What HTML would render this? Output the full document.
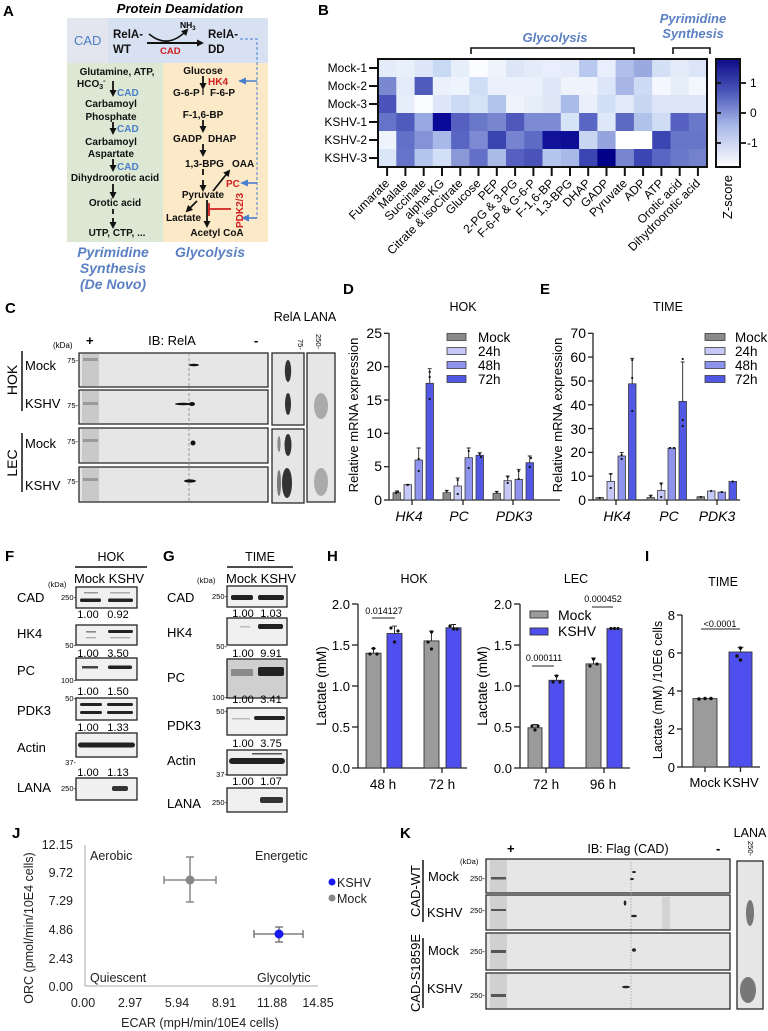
<!DOCTYPE html>
<html><head><meta charset="utf-8"><style>
html,body{margin:0;padding:0;background:#fff;}
svg{display:block;font-family:"Liberation Sans",Arial,sans-serif;}
</style></head><body>
<svg width="768" height="1031" viewBox="0 0 768 1031" xmlns="http://www.w3.org/2000/svg">
<defs>
<marker id="ah" markerWidth="7" markerHeight="7" refX="5" refY="3.5" orient="auto" markerUnits="userSpaceOnUse"><path d="M0,0 L7,3.5 L0,7 z" fill="#111"/></marker>
<marker id="ahb" markerWidth="8" markerHeight="7" refX="6" refY="3.5" orient="auto" markerUnits="userSpaceOnUse"><path d="M0,0 L8,3.5 L0,7 z" fill="#4a7fd0"/></marker>
<linearGradient id="cb" x1="0" y1="0" x2="0" y2="1">
<stop offset="0" stop-color="#0c0c86"/><stop offset="0.3" stop-color="#4a55b8"/><stop offset="0.6" stop-color="#a4b4e6"/><stop offset="1" stop-color="#ffffff"/>
</linearGradient>
</defs>

<!-- ============ PANEL A ============ -->
<text x="3" y="16" font-size="15" font-weight="bold">A</text>
<text x="180" y="13" font-size="13" font-weight="bold" font-style="italic" text-anchor="middle">Protein Deamidation</text>
<rect x="67" y="18" width="41" height="45" fill="#e3e6ee"/>
<rect x="108" y="18" width="160" height="45" fill="#d7e1f2"/>
<rect x="67" y="63" width="96" height="179" fill="#dce8d4"/>
<rect x="163" y="63" width="105" height="179" fill="#fbe9c7"/>
<text x="74" y="45" font-size="13" fill="#4a7fc8">CAD</text>
<g font-size="11.5" font-weight="bold" fill="#111">
<text x="113" y="38">RelA-</text><text x="113" y="53">WT</text>
<text x="208" y="38">RelA-</text><text x="208" y="53">DD</text>
</g>
<path d="M149,34 Q168,50 187,30" fill="none" stroke="#111" stroke-width="1.6" marker-end="url(#ah)"/>
<line x1="147" y1="43" x2="202" y2="43" stroke="#111" stroke-width="2" marker-end="url(#ah)"/>
<text x="180" y="28" font-size="8.5" font-weight="bold">NH<tspan font-size="6" dy="2">3</tspan></text>
<text x="160" y="54" font-size="9.5" font-weight="bold" fill="#d02020">CAD</text>
<path d="M240,39 L257,39 L257,218" fill="none" stroke="#4a7fd0" stroke-width="1" stroke-dasharray="3,2"/>
<line x1="257" y1="81" x2="240" y2="81" stroke="#4a7fd0" stroke-width="1.6" marker-end="url(#ahb)"/>
<line x1="257" y1="183" x2="242" y2="183" stroke="#4a7fd0" stroke-width="1.6" marker-end="url(#ahb)"/>
<line x1="257" y1="218" x2="243" y2="218" stroke="#4a7fd0" stroke-width="1.6" marker-end="url(#ahb)"/>
<!-- green column -->
<g font-size="10" font-weight="bold" fill="#111" text-anchor="middle">
<text x="117" y="75">Glutamine, ATP,</text>
<text x="77" y="87" text-anchor="start">HCO<tspan font-size="7" dy="2">3</tspan><tspan font-size="7" dy="-6">-</tspan></text>
<text x="111" y="107">Carbamoyl</text>
<text x="111" y="120">Phosphate</text>
<text x="111" y="145">Carbamoyl</text>
<text x="111" y="157">Aspartate</text>
<text x="115" y="181">Dihydroorotic acid</text>
<text x="115" y="206">Orotic acid</text>
<text x="117" y="236">UTP, CTP, ...</text>
</g>
<g font-size="10" font-weight="bold" fill="#4a7fc8">
<text x="117" y="96">CAD</text><text x="117" y="132">CAD</text><text x="117" y="170">CAD</text>
</g>
<g stroke="#111" stroke-width="1.8">
<line x1="113" y1="81" x2="113" y2="95" marker-end="url(#ah)"/>
<line x1="113" y1="122" x2="113" y2="133" marker-end="url(#ah)"/>
<line x1="113" y1="159" x2="113" y2="170" marker-end="url(#ah)"/>
<line x1="113" y1="184" x2="113" y2="197" marker-end="url(#ah)"/>
<line x1="113" y1="209" x2="113" y2="214"/>
<line x1="113" y1="218" x2="113" y2="227" marker-end="url(#ah)"/>
</g>
<text x="113" y="257" font-size="14" font-weight="bold" font-style="italic" fill="#5b80c2" text-anchor="middle">Pyrimidine</text>
<text x="113" y="273" font-size="14" font-weight="bold" font-style="italic" fill="#5b80c2" text-anchor="middle">Synthesis</text>
<text x="113" y="289" font-size="14" font-weight="bold" font-style="italic" fill="#5b80c2" text-anchor="middle">(De Novo)</text>
<text x="210" y="257" font-size="14" font-weight="bold" font-style="italic" fill="#5b80c2" text-anchor="middle">Glycolysis</text>
<!-- orange column -->
<g font-size="10" font-weight="bold" fill="#111">
<text x="203" y="74" text-anchor="middle">Glucose</text>
<text x="173" y="96">G-6-P</text><text x="210" y="96">F-6-P</text>
<text x="203" y="118" text-anchor="middle">F-1,6-BP</text>
<text x="173" y="142">GADP</text><text x="208" y="142">DHAP</text>
<text x="185" y="167">1,3-BPG</text><text x="232" y="167">OAA</text>
<text x="203" y="198" text-anchor="middle">Pyruvate</text>
<text x="166" y="221">Lactate</text>
<text x="217" y="236" text-anchor="middle">Acetyl CoA</text>
</g>
<g font-size="10" font-weight="bold" fill="#d02020">
<text x="208" y="85">HK4</text><text x="226" y="187">PC</text>
<text transform="translate(243,228) rotate(-90)">PDK2/3</text>
</g>
<g stroke="#111" stroke-width="1.8">
<line x1="203" y1="76" x2="203" y2="88" marker-end="url(#ah)"/>
<line x1="203" y1="89" x2="203" y2="95" stroke-width="1.2"/>
<line x1="203" y1="120" x2="203" y2="131" marker-end="url(#ah)"/>
<line x1="203" y1="144" x2="203" y2="155" marker-end="url(#ah)"/>
<line x1="203" y1="169" x2="203" y2="175"/>
<line x1="203" y1="180" x2="203" y2="190" marker-end="url(#ah)"/>
<line x1="213" y1="191" x2="229" y2="171" marker-end="url(#ah)"/>
<line x1="197" y1="201" x2="187" y2="211" marker-end="url(#ah)"/>
<line x1="207" y1="200" x2="207" y2="226" marker-end="url(#ah)"/>
</g>
<g stroke="#d02020" stroke-width="1.8"><line x1="209" y1="209" x2="231" y2="209"/><line x1="209" y1="203" x2="209" y2="216"/></g>

<!-- ============ PANEL B ============ -->
<text x="318" y="15" font-size="15" font-weight="bold">B</text>
<text x="555" y="42" font-size="13" font-weight="bold" font-style="italic" fill="#5b80c2" text-anchor="middle">Glycolysis</text>
<path d="M471,54 L471,48 L634,48 L634,54" fill="none" stroke="#111" stroke-width="1.6"/>
<text x="693" y="23" font-size="13" font-weight="bold" font-style="italic" fill="#5b80c2" text-anchor="middle">Pyrimidine</text>
<text x="693" y="38" font-size="13" font-weight="bold" font-style="italic" fill="#5b80c2" text-anchor="middle">Synthesis</text>
<path d="M673,54 L673,48 L710,48 L710,54" fill="none" stroke="#111" stroke-width="1.6"/>
<g>
<!-- row 0 -->
<rect x="378" y="59" width="18.5" height="18.2" fill="#e4ecfa"/><rect x="396.3" y="59" width="18.5" height="18.2" fill="#e8f0fb"/><rect x="414.6" y="59" width="18.5" height="18.2" fill="#dde6f8"/><rect x="432.8" y="59" width="18.5" height="18.2" fill="#c8daf3"/><rect x="451.1" y="59" width="18.5" height="18.2" fill="#e6eefa"/><rect x="469.4" y="59" width="18.5" height="18.2" fill="#fafcff"/><rect x="487.7" y="59" width="18.5" height="18.2" fill="#eef3fc"/><rect x="506" y="59" width="18.5" height="18.2" fill="#dde6f7"/><rect x="524.2" y="59" width="18.5" height="18.2" fill="#e4ecfa"/><rect x="542.5" y="59" width="18.5" height="18.2" fill="#e8eefb"/><rect x="560.8" y="59" width="18.5" height="18.2" fill="#e4ecfa"/><rect x="579.1" y="59" width="18.5" height="18.2" fill="#b8c8ee"/><rect x="597.4" y="59" width="18.5" height="18.2" fill="#e8eefb"/><rect x="615.6" y="59" width="18.5" height="18.2" fill="#afbfe9"/><rect x="633.9" y="59" width="18.5" height="18.2" fill="#9aaae0"/><rect x="652.2" y="59" width="18.5" height="18.2" fill="#d4e0f6"/><rect x="670.5" y="59" width="18.5" height="18.2" fill="#e4ecfa"/><rect x="688.8" y="59" width="18.2" height="18.2" fill="#dbe5f7"/>
<!-- row 1 -->
<rect x="378" y="77" width="18.5" height="18.2" fill="#7a88d0"/><rect x="396.3" y="77" width="18.5" height="18.2" fill="#e4ecfa"/><rect x="414.6" y="77" width="18.5" height="18.2" fill="#4f5cbc"/><rect x="432.8" y="77" width="18.5" height="18.2" fill="#eaf1fc"/><rect x="451.1" y="77" width="18.5" height="18.2" fill="#eef4fd"/><rect x="469.4" y="77" width="18.5" height="18.2" fill="#d0def5"/><rect x="487.7" y="77" width="18.5" height="18.2" fill="#eaf0fc"/><rect x="506" y="77" width="18.5" height="18.2" fill="#eaf0fc"/><rect x="524.2" y="77" width="18.5" height="18.2" fill="#eaf0fc"/><rect x="542.5" y="77" width="18.5" height="18.2" fill="#dfe8f8"/><rect x="560.8" y="77" width="18.5" height="18.2" fill="#eef3fc"/><rect x="579.1" y="77" width="18.5" height="18.2" fill="#eef3fc"/><rect x="597.4" y="77" width="18.5" height="18.2" fill="#dde6f8"/><rect x="615.6" y="77" width="18.5" height="18.2" fill="#a8b6e6"/><rect x="633.9" y="77" width="18.5" height="18.2" fill="#cddbf4"/><rect x="652.2" y="77" width="18.5" height="18.2" fill="#f4f7fe"/><rect x="670.5" y="77" width="18.5" height="18.2" fill="#e6eefa"/><rect x="688.8" y="77" width="18.2" height="18.2" fill="#f2f6fd"/>
<!-- row 2 -->
<rect x="378" y="95" width="18.5" height="18.2" fill="#4b52b8"/><rect x="396.3" y="95" width="18.5" height="18.2" fill="#e6eefa"/><rect x="414.6" y="95" width="18.5" height="18.2" fill="#fafcff"/><rect x="432.8" y="95" width="18.5" height="18.2" fill="#dde6f8"/><rect x="451.1" y="95" width="18.5" height="18.2" fill="#ccdaf4"/><rect x="469.4" y="95" width="18.5" height="18.2" fill="#d6e2f6"/><rect x="487.7" y="95" width="18.5" height="18.2" fill="#b2c3ec"/><rect x="506" y="95" width="18.5" height="18.2" fill="#eef3fc"/><rect x="524.2" y="95" width="18.5" height="18.2" fill="#e6eefa"/><rect x="542.5" y="95" width="18.5" height="18.2" fill="#e0e8f8"/><rect x="560.8" y="95" width="18.5" height="18.2" fill="#a9bbe8"/><rect x="579.1" y="95" width="18.5" height="18.2" fill="#eaf0fb"/><rect x="597.4" y="95" width="18.5" height="18.2" fill="#d2def6"/><rect x="615.6" y="95" width="18.5" height="18.2" fill="#e2eaf9"/><rect x="633.9" y="95" width="18.5" height="18.2" fill="#c8d6f2"/><rect x="652.2" y="95" width="18.5" height="18.2" fill="#dde6f8"/><rect x="670.5" y="95" width="18.5" height="18.2" fill="#dde6f8"/><rect x="688.8" y="95" width="18.2" height="18.2" fill="#dde6f8"/>
<!-- row 3 -->
<rect x="378" y="113" width="18.5" height="18.2" fill="#6573c8"/><rect x="396.3" y="113" width="18.5" height="18.2" fill="#4f5abd"/><rect x="414.6" y="113" width="18.5" height="18.2" fill="#98a8e0"/><rect x="432.8" y="113" width="18.5" height="18.2" fill="#0a0a98"/><rect x="451.1" y="113" width="18.5" height="18.2" fill="#5560c0"/><rect x="469.4" y="113" width="18.5" height="18.2" fill="#6a78ca"/><rect x="487.7" y="113" width="18.5" height="18.2" fill="#7886d0"/><rect x="506" y="113" width="18.5" height="18.2" fill="#5058bc"/><rect x="524.2" y="113" width="18.5" height="18.2" fill="#7d8bd4"/><rect x="542.5" y="113" width="18.5" height="18.2" fill="#7d8bd4"/><rect x="560.8" y="113" width="18.5" height="18.2" fill="#d6e2f6"/><rect x="579.1" y="113" width="18.5" height="18.2" fill="#5a66c3"/><rect x="597.4" y="113" width="18.5" height="18.2" fill="#dfe8f8"/><rect x="615.6" y="113" width="18.5" height="18.2" fill="#5d6ac4"/><rect x="633.9" y="113" width="18.5" height="18.2" fill="#b0c1ea"/><rect x="652.2" y="113" width="18.5" height="18.2" fill="#cfdcf4"/><rect x="670.5" y="113" width="18.5" height="18.2" fill="#5660c0"/><rect x="688.8" y="113" width="18.2" height="18.2" fill="#6a78ca"/>
<!-- row 4 -->
<rect x="378" y="131" width="18.5" height="18.2" fill="#eef3fc"/><rect x="396.3" y="131" width="18.5" height="18.2" fill="#6270c8"/><rect x="414.6" y="131" width="18.5" height="18.2" fill="#8593d6"/><rect x="432.8" y="131" width="18.5" height="18.2" fill="#a8b8e8"/><rect x="451.1" y="131" width="18.5" height="18.2" fill="#5865c2"/><rect x="469.4" y="131" width="18.5" height="18.2" fill="#7d8ad3"/><rect x="487.7" y="131" width="18.5" height="18.2" fill="#3a44b0"/><rect x="506" y="131" width="18.5" height="18.2" fill="#7583d0"/><rect x="524.2" y="131" width="18.5" height="18.2" fill="#5f6cc6"/><rect x="542.5" y="131" width="18.5" height="18.2" fill="#12129b"/><rect x="560.8" y="131" width="18.5" height="18.2" fill="#0d0d96"/><rect x="579.1" y="131" width="18.5" height="18.2" fill="#c8d6f2"/><rect x="597.4" y="131" width="18.5" height="18.2" fill="#95a4dd"/><rect x="615.6" y="131" width="18.5" height="18.2" fill="#ffffff"/><rect x="633.9" y="131" width="18.5" height="18.2" fill="#ffffff"/><rect x="652.2" y="131" width="18.5" height="18.2" fill="#3c46b2"/><rect x="670.5" y="131" width="18.5" height="18.2" fill="#6876c9"/><rect x="688.8" y="131" width="18.2" height="18.2" fill="#6876c9"/>
<!-- row 5 -->
<rect x="378" y="149" width="18.5" height="18" fill="#dbe6f8"/><rect x="396.3" y="149" width="18.5" height="18" fill="#6573c8"/><rect x="414.6" y="149" width="18.5" height="18" fill="#b5c6ee"/><rect x="432.8" y="149" width="18.5" height="18" fill="#d2dff6"/><rect x="451.1" y="149" width="18.5" height="18" fill="#8a98d8"/><rect x="469.4" y="149" width="18.5" height="18" fill="#6370c8"/><rect x="487.7" y="149" width="18.5" height="18" fill="#aabbe8"/><rect x="506" y="149" width="18.5" height="18" fill="#5560c0"/><rect x="524.2" y="149" width="18.5" height="18" fill="#4a54b8"/><rect x="542.5" y="149" width="18.5" height="18" fill="#b5c6ee"/><rect x="560.8" y="149" width="18.5" height="18" fill="#a8b8e8"/><rect x="579.1" y="149" width="18.5" height="18" fill="#3c46b2"/><rect x="597.4" y="149" width="18.5" height="18" fill="#000088"/><rect x="615.6" y="149" width="18.5" height="18" fill="#7886d0"/><rect x="633.9" y="149" width="18.5" height="18" fill="#3c46b2"/><rect x="652.2" y="149" width="18.5" height="18" fill="#5965c2"/><rect x="670.5" y="149" width="18.5" height="18" fill="#6a78ca"/><rect x="688.8" y="149" width="18.2" height="18" fill="#7481cd"/>
</g>
<rect x="378" y="59" width="329" height="108" fill="none" stroke="#111" stroke-width="2"/>
<g font-size="12" text-anchor="end">
<text x="367" y="72">Mock-1</text><text x="367" y="90">Mock-2</text><text x="367" y="108">Mock-3</text>
<text x="367" y="126">KSHV-1</text><text x="367" y="144">KSHV-2</text><text x="367" y="162">KSHV-3</text>
</g>
<g stroke="#111" stroke-width="2">
<line x1="369" y1="68" x2="378" y2="68"/><line x1="369" y1="86" x2="378" y2="86"/><line x1="369" y1="104" x2="378" y2="104"/>
<line x1="369" y1="122" x2="378" y2="122"/><line x1="369" y1="140" x2="378" y2="140"/><line x1="369" y1="158" x2="378" y2="158"/>
<line x1="387.1" y1="167" x2="387.1" y2="176"/><line x1="405.4" y1="167" x2="405.4" y2="176"/><line x1="423.7" y1="167" x2="423.7" y2="176"/><line x1="442" y1="167" x2="442" y2="176"/><line x1="460.3" y1="167" x2="460.3" y2="176"/><line x1="478.5" y1="167" x2="478.5" y2="176"/><line x1="496.8" y1="167" x2="496.8" y2="176"/><line x1="515.1" y1="167" x2="515.1" y2="176"/><line x1="533.4" y1="167" x2="533.4" y2="176"/><line x1="551.7" y1="167" x2="551.7" y2="176"/><line x1="570" y1="167" x2="570" y2="176"/><line x1="588.2" y1="167" x2="588.2" y2="176"/><line x1="606.5" y1="167" x2="606.5" y2="176"/><line x1="624.8" y1="167" x2="624.8" y2="176"/><line x1="643.1" y1="167" x2="643.1" y2="176"/><line x1="661.4" y1="167" x2="661.4" y2="176"/><line x1="679.7" y1="167" x2="679.7" y2="176"/><line x1="697.9" y1="167" x2="697.9" y2="176"/>
</g>
<g font-size="12" text-anchor="end">
<text transform="translate(390.1,184) rotate(-45)">Fumarate</text>
<text transform="translate(408.4,184) rotate(-45)">Malate</text>
<text transform="translate(426.7,184) rotate(-45)">Succinate</text>
<text transform="translate(445,184) rotate(-45)">alpha-KG</text>
<text transform="translate(463.3,184) rotate(-45)">Citrate &amp; isoCitrate</text>
<text transform="translate(481.5,184) rotate(-45)">Glucose</text>
<text transform="translate(499.8,184) rotate(-45)">PEP</text>
<text transform="translate(518.1,184) rotate(-45)">2-PG &amp; 3-PG</text>
<text transform="translate(536.4,184) rotate(-45)">F-6-P &amp; G-6-P</text>
<text transform="translate(554.7,184) rotate(-45)">F-1,6-BP</text>
<text transform="translate(573,184) rotate(-45)">1,3-BPG</text>
<text transform="translate(591.2,184) rotate(-45)">DHAP</text>
<text transform="translate(609.5,184) rotate(-45)">GADP</text>
<text transform="translate(627.8,184) rotate(-45)">Pyruvate</text>
<text transform="translate(646.1,184) rotate(-45)">ADP</text>
<text transform="translate(664.4,184) rotate(-45)">ATP</text>
<text transform="translate(682.7,184) rotate(-45)">Orotic acid</text>
<text transform="translate(700.9,184) rotate(-45)">Dihydroorotic acid</text>
</g>
<rect x="716" y="59" width="24" height="108" fill="url(#cb)" stroke="#111" stroke-width="2"/>
<g stroke="#111" stroke-width="1.8">
<line x1="740" y1="83" x2="746" y2="83"/><line x1="740" y1="113" x2="746" y2="113"/><line x1="740" y1="143" x2="746" y2="143"/>
<line x1="717" y1="83" x2="721" y2="83"/><line x1="717" y1="113" x2="721" y2="113"/><line x1="717" y1="143" x2="721" y2="143"/>
</g>
<g font-size="12"><text x="750" y="87">1</text><text x="750" y="117">0</text><text x="747" y="147">-1</text></g>
<text transform="translate(732,197) rotate(-90)" font-size="13" text-anchor="middle">Z-score</text>

<!-- ============ PANEL C ============ -->
<text x="5" y="313" font-size="15" font-weight="bold">C</text>
<text x="305" y="321" font-size="12.5" text-anchor="middle">RelA LANA</text>
<text x="53" y="348" font-size="8">(kDa)</text>
<text x="86" y="345" font-size="13" font-weight="bold">+</text>
<text x="172" y="345" font-size="13" text-anchor="middle">IB: RelA</text>
<text x="254" y="345" font-size="13" font-weight="bold">-</text>
<g fill="#e6e6e6" stroke="#2a2a2a" stroke-width="1.3">
<rect x="79" y="353" width="189" height="34"/><rect x="79" y="390" width="189" height="34"/>
<rect x="79" y="428" width="189" height="35"/><rect x="79" y="467" width="189" height="35"/>
<rect x="272" y="353" width="32" height="72"/><rect x="272" y="429" width="32" height="74"/>
<rect x="307" y="353" width="28" height="149"/>
</g>
<g fill="#c9c9c9"><rect x="82" y="354" width="17" height="32"/><rect x="82" y="391" width="17" height="32"/><rect x="82" y="429" width="17" height="33"/><rect x="82" y="468" width="17" height="33"/></g>
<g fill="#9a9a9a"><rect x="83" y="358" width="15" height="3"/><rect x="83" y="402" width="15" height="3"/><rect x="83" y="439" width="15" height="3"/><rect x="83" y="478" width="15" height="3"/></g>
<line x1="189" y1="353" x2="189" y2="502" stroke="#888" stroke-width="0.8" stroke-dasharray="3,2"/>
<g fill="#111">
<ellipse cx="194" cy="365" rx="5" ry="1.3"/><ellipse cx="183" cy="404" rx="8" ry="1.2"/><ellipse cx="192" cy="404" rx="3" ry="2"/>
<ellipse cx="193" cy="443" rx="2.5" ry="2.5"/><ellipse cx="190" cy="481" rx="6" ry="1.6"/>
</g>
<g fill="#333">
<ellipse cx="288" cy="371" rx="3.2" ry="11"/><ellipse cx="288" cy="404" rx="3" ry="11"/>
<ellipse cx="288" cy="445" rx="3.5" ry="11"/><ellipse cx="287" cy="483" rx="5" ry="15"/>
</g>
<ellipse cx="279" cy="483" rx="2" ry="13" fill="#777"/><ellipse cx="279" cy="444" rx="1.6" ry="8" fill="#888"/>
<g fill="#aaa"><ellipse cx="321" cy="406" rx="7" ry="13"/><ellipse cx="321" cy="482" rx="7" ry="14"/></g>
<g font-size="7.5">
<text transform="translate(298,339) rotate(90)">75-</text>
<text transform="translate(316,334) rotate(90)">250-</text>
<text x="78" y="363" text-anchor="end">75-</text><text x="78" y="408" text-anchor="end">75-</text>
<text x="78" y="444" text-anchor="end">75-</text><text x="78" y="484" text-anchor="end">75-</text>
</g>
<g font-size="13"><text x="25" y="370">Mock</text><text x="25" y="408">KSHV</text><text x="25" y="448">Mock</text><text x="25" y="490">KSHV</text></g>
<line x1="22" y1="351" x2="22" y2="411" stroke="#111" stroke-width="1.5"/>
<line x1="22" y1="433" x2="22" y2="492" stroke="#111" stroke-width="1.5"/>
<text transform="translate(17,380) rotate(-90)" font-size="14" text-anchor="middle">HOK</text>
<text transform="translate(17,463) rotate(-90)" font-size="14" text-anchor="middle">LEC</text>

<!-- ============ PANEL D ============ -->
<text x="343" y="294" font-size="15" font-weight="bold">D</text>
<text x="463" y="311" font-size="12.5" text-anchor="middle">HOK</text>
<text transform="translate(358,415) rotate(-90)" font-size="13" text-anchor="middle">Relative mRNA expression</text>
<g stroke="#222" stroke-width="1.3"><line x1="389" y1="333" x2="389" y2="500"/><line x1="389" y1="500" x2="560" y2="500"/>
<line x1="384" y1="333.3" x2="389" y2="333.3"/><line x1="384" y1="366.7" x2="389" y2="366.7"/><line x1="384" y1="400" x2="389" y2="400"/><line x1="384" y1="433.3" x2="389" y2="433.3"/><line x1="384" y1="466.7" x2="389" y2="466.7"/><line x1="384" y1="500" x2="389" y2="500"/>
<line x1="412" y1="500" x2="412" y2="505"/><line x1="463" y1="500" x2="463" y2="505"/><line x1="513" y1="500" x2="513" y2="505"/></g>
<g font-size="14" text-anchor="end"><text x="382" y="338">25</text><text x="382" y="371">20</text><text x="382" y="405">15</text><text x="382" y="438">10</text><text x="382" y="471">5</text><text x="382" y="505">0</text></g>
<g stroke="#3a3a3a" stroke-width="0.8">
<rect x="393" y="492.7" width="7.5" height="7.3" fill="#8a8a8a"/><rect x="404" y="484.7" width="7.5" height="15.3" fill="#c6c9f7"/><rect x="415" y="460" width="7.5" height="40" fill="#8e94ee"/><rect x="426" y="383.3" width="7.5" height="116.7" fill="#5158e4"/>
<rect x="443" y="492.7" width="7.5" height="7.3" fill="#8a8a8a"/><rect x="454" y="486" width="7.5" height="14" fill="#c6c9f7"/><rect x="465" y="457.7" width="7.5" height="42.3" fill="#8e94ee"/><rect x="476" y="455.3" width="7.5" height="44.7" fill="#5158e4"/>
<rect x="493" y="493.3" width="7.5" height="6.7" fill="#8a8a8a"/><rect x="504" y="480.7" width="7.5" height="19.3" fill="#c6c9f7"/><rect x="515" y="479.3" width="7.5" height="20.7" fill="#8e94ee"/><rect x="526" y="462.7" width="7.5" height="37.3" fill="#5158e4"/>
</g>
<g stroke="#222" stroke-width="0.9" fill="none">
<path d="M396.7,492.7V491 M394.7,491h4"/><path d="M407.7,484.7V484.3 M405.7,484.3h4"/><path d="M418.7,460V448 M416.7,448h4"/><path d="M429.7,383.3V368.7 M427.7,368.7h4"/>
<path d="M446.7,492.7V490.3 M444.7,490.3h4"/><path d="M457.7,486V478 M455.7,478h4"/><path d="M468.7,457.7V448 M466.7,448h4"/><path d="M479.7,455.3V452.7 M477.7,452.7h4"/>
<path d="M496.7,493.3V491.3 M494.7,491.3h4"/><path d="M507.7,480.7V476 M505.7,476h4"/><path d="M518.7,479.3V469.3 M516.7,469.3h4"/><path d="M529.7,462.7V456 M527.7,456h4"/>
</g>
<g fill="#111">
<circle cx="396" cy="493" r="1.1"/><circle cx="398" cy="491.5" r="1.1"/><circle cx="407.7" cy="485" r="1.1"/><circle cx="418.7" cy="471" r="1.1"/><circle cx="418.7" cy="459" r="1.1"/><circle cx="429.7" cy="399" r="1.1"/><circle cx="429.7" cy="372" r="1.1"/><circle cx="429.7" cy="377" r="1.1"/>
<circle cx="446.7" cy="491" r="1.1"/><circle cx="457.7" cy="494" r="1.1"/><circle cx="457.7" cy="480" r="1.1"/><circle cx="468.7" cy="468" r="1.1"/><circle cx="468.7" cy="451" r="1.1"/><circle cx="479.7" cy="454" r="1.1"/><circle cx="481" cy="457" r="1.1"/>
<circle cx="496.7" cy="492" r="1.1"/><circle cx="507.7" cy="483" r="1.1"/><circle cx="507.7" cy="477" r="1.1"/><circle cx="518.7" cy="479" r="1.1"/><circle cx="518.7" cy="471" r="1.1"/><circle cx="529.7" cy="467" r="1.1"/><circle cx="531" cy="458" r="1.1"/>
</g>
<g stroke="#3a3a3a" stroke-width="0.8"><rect x="447" y="333.5" width="19" height="7" fill="#8a8a8a"/><rect x="447" y="347.5" width="19" height="7" fill="#c6c9f7"/><rect x="447" y="361.5" width="19" height="7" fill="#8e94ee"/><rect x="447" y="375.5" width="19" height="7" fill="#5158e4"/></g>
<g font-size="13.5"><text x="478" y="342">Mock</text><text x="478" y="356">24h</text><text x="478" y="370">48h</text><text x="478" y="384">72h</text></g>
<g font-size="14" font-style="italic" text-anchor="middle"><text x="409" y="521">HK4</text><text x="459" y="521">PC</text><text x="514" y="521">PDK3</text></g>

<!-- ============ PANEL E ============ -->
<text x="540" y="294" font-size="15" font-weight="bold">E</text>
<text x="668" y="311" font-size="12.5" text-anchor="middle">TIME</text>
<text transform="translate(562,415) rotate(-90)" font-size="13" text-anchor="middle">Relative mRNA expression</text>
<g stroke="#222" stroke-width="1.3"><line x1="593" y1="333" x2="593" y2="500"/><line x1="593" y1="500" x2="740" y2="500"/>
<line x1="588" y1="333.3" x2="593" y2="333.3"/><line x1="588" y1="357.1" x2="593" y2="357.1"/><line x1="588" y1="381" x2="593" y2="381"/><line x1="588" y1="404.8" x2="593" y2="404.8"/><line x1="588" y1="428.6" x2="593" y2="428.6"/><line x1="588" y1="452.4" x2="593" y2="452.4"/><line x1="588" y1="476.2" x2="593" y2="476.2"/><line x1="588" y1="500" x2="593" y2="500"/>
<line x1="616" y1="500" x2="616" y2="505"/><line x1="667" y1="500" x2="667" y2="505"/><line x1="717" y1="500" x2="717" y2="505"/></g>
<g font-size="14" text-anchor="end"><text x="586" y="338">70</text><text x="586" y="362">60</text><text x="586" y="386">50</text><text x="586" y="410">40</text><text x="586" y="434">30</text><text x="586" y="457">20</text><text x="586" y="481">10</text><text x="586" y="505">0</text></g>
<g stroke="#3a3a3a" stroke-width="0.8">
<rect x="596" y="497.6" width="7.5" height="2.4" fill="#8a8a8a"/><rect x="607" y="481.4" width="7.5" height="18.6" fill="#c6c9f7"/><rect x="618" y="456" width="7.5" height="44" fill="#8e94ee"/><rect x="628.5" y="383.8" width="7.5" height="116.2" fill="#5158e4"/>
<rect x="647" y="497.6" width="7.5" height="2.4" fill="#8a8a8a"/><rect x="657.5" y="490.5" width="7.5" height="9.5" fill="#c6c9f7"/><rect x="668" y="448.1" width="7.5" height="51.9" fill="#8e94ee"/><rect x="679" y="401.4" width="7.5" height="98.6" fill="#5158e4"/>
<rect x="697" y="496.7" width="7.5" height="3.3" fill="#8a8a8a"/><rect x="707.5" y="491" width="7.5" height="9" fill="#c6c9f7"/><rect x="718" y="492.1" width="7.5" height="7.9" fill="#8e94ee"/><rect x="729" y="481.4" width="7.5" height="18.6" fill="#5158e4"/>
</g>
<g stroke="#222" stroke-width="0.9" fill="none">
<path d="M610.7,481.4V473.8 M608.7,473.8h4"/><path d="M621.7,456V452.4 M619.7,452.4h4"/><path d="M632.2,383.8V358.3 M630.2,358.3h4"/>
<path d="M650.7,497.6V495.2 M648.7,495.2h4"/><path d="M661.2,490.5V482.9 M659.2,482.9h4"/><path d="M682.7,401.4V361.9 M680.7,361.9h4"/>
</g>
<g fill="#111">
<circle cx="599.7" cy="498" r="1.1"/><circle cx="610.7" cy="474" r="1.1"/><circle cx="610.7" cy="488" r="1.1"/><circle cx="621.7" cy="455" r="1.1"/><circle cx="621.7" cy="459" r="1.1"/><circle cx="632.2" cy="360" r="1.1"/><circle cx="632.2" cy="378" r="1.1"/><circle cx="632.2" cy="411" r="1.1"/>
<circle cx="650.7" cy="496" r="1.1"/><circle cx="661.2" cy="484" r="1.1"/><circle cx="661.2" cy="497" r="1.1"/><circle cx="670" cy="448" r="1.1"/><circle cx="674" cy="448" r="1.1"/><circle cx="682.7" cy="359" r="1.1"/><circle cx="682.7" cy="420" r="1.1"/><circle cx="682.7" cy="426" r="1.1"/>
<circle cx="700.7" cy="497" r="1.1"/><circle cx="711.2" cy="491" r="1.1"/><circle cx="721.7" cy="492" r="1.1"/><circle cx="732.7" cy="481.5" r="1.1"/>
</g>
<g stroke="#3a3a3a" stroke-width="0.8"><rect x="705" y="333.5" width="20" height="7" fill="#8a8a8a"/><rect x="705" y="347.5" width="20" height="7" fill="#c6c9f7"/><rect x="705" y="361.5" width="20" height="7" fill="#8e94ee"/><rect x="705" y="375.5" width="20" height="7" fill="#5158e4"/></g>
<g font-size="13.5"><text x="735" y="342">Mock</text><text x="735" y="356">24h</text><text x="735" y="370">48h</text><text x="735" y="384">72h</text></g>
<g font-size="14" font-style="italic" text-anchor="middle"><text x="617" y="521">HK4</text><text x="669" y="521">PC</text><text x="717" y="521">PDK3</text></g>

<!-- ============ PANEL F ============ -->
<text x="5" y="561" font-size="15" font-weight="bold">F</text>
<text x="111" y="561" font-size="12.5" text-anchor="middle">HOK</text>
<line x1="75" y1="567" x2="147" y2="567" stroke="#111" stroke-width="1.5"/>
<text x="48" y="587" font-size="7.5">(kDa)</text>
<text x="74" y="583" font-size="13">Mock KSHV</text>
<g fill="#f0f0f0" stroke="#222" stroke-width="1.3">
<rect x="76" y="587" width="61" height="21"/><rect x="76" y="625" width="61" height="20"/><rect x="76" y="658" width="61" height="22"/>
<rect x="76" y="698" width="61" height="22"/><rect x="76" y="733" width="61" height="24"/><rect x="76" y="778" width="61" height="22"/>
</g>
<g fill="#222">
<rect x="80" y="598.5" width="21" height="3.5" rx="1.5"/><rect x="108" y="598.5" width="25" height="3.5" rx="1.5"/>
<rect x="84" y="592" width="14" height="1.5" fill="#999"/><rect x="110" y="592" width="20" height="1.5" fill="#aaa"/>
<rect x="86" y="631" width="10" height="1.6" fill="#888"/><rect x="108" y="630" width="25" height="3" rx="1.5"/><rect x="86" y="637" width="10" height="1.3" fill="#aaa"/><rect x="110" y="637" width="20" height="1.3" fill="#aaa"/>
<rect x="82" y="666" width="16" height="2.5" fill="#444"/><rect x="108" y="665.5" width="24" height="3.5" rx="1.5"/>
<rect x="80" y="703" width="22" height="3" rx="1.5"/><rect x="107" y="703" width="26" height="3" rx="1.5"/><rect x="80" y="711" width="22" height="3" rx="1.5"/><rect x="107" y="711" width="26" height="3" rx="1.5"/>
<rect x="78" y="742.5" width="57" height="5" rx="2.5"/>
<rect x="112" y="786" width="16" height="5" rx="2" fill="#333"/>
</g>
<g font-size="13"><text x="17" y="602">CAD</text><text x="17" y="638">HK4</text><text x="17" y="675">PC</text><text x="17" y="715">PDK3</text><text x="17" y="752">Actin</text><text x="17" y="792">LANA</text></g>
<g font-size="7.5" text-anchor="end"><text x="76" y="600">250-</text><text x="76" y="648">50-</text><text x="76" y="683">100-</text><text x="76" y="701">50-</text><text x="76" y="765">37-</text><text x="76" y="791">250-</text></g>
<g font-size="11" text-anchor="middle">
<text x="88" y="618">1.00</text><text x="118" y="618">0.92</text>
<text x="88" y="657">1.00</text><text x="118" y="657">3.50</text>
<text x="88" y="695">1.00</text><text x="118" y="695">1.50</text>
<text x="88" y="731">1.00</text><text x="118" y="731">1.33</text>
<text x="88" y="776">1.00</text><text x="118" y="776">1.13</text>
</g>

<!-- ============ PANEL G ============ -->
<text x="163" y="561" font-size="15" font-weight="bold">G</text>
<text x="260" y="561" font-size="12.5" text-anchor="middle">TIME</text>
<line x1="227" y1="567" x2="293" y2="567" stroke="#111" stroke-width="1.5"/>
<text x="197" y="583" font-size="7.5">(kDa)</text>
<text x="226" y="583" font-size="13">Mock KSHV</text>
<g fill="#f0f0f0" stroke="#222" stroke-width="1.3">
<rect x="227" y="586" width="60" height="21"/><rect x="227" y="618" width="60" height="27"/><rect x="227" y="659" width="60" height="39" fill="#cfcfcf"/>
<rect x="227" y="708" width="60" height="27"/><rect x="227" y="750" width="60" height="25"/><rect x="227" y="788" width="60" height="24"/>
</g>
<g fill="#222">
<rect x="231" y="595" width="22" height="5" rx="2"/><rect x="258" y="595" width="26" height="5" rx="2"/>
<rect x="258" y="624" width="25" height="5" rx="2"/><rect x="240" y="626" width="10" height="1.5" fill="#bbb"/>
<rect x="231" y="669" width="22" height="7" fill="#8a8a8a"/><rect x="258" y="667" width="26" height="9" rx="2"/>
<rect x="254" y="716" width="31" height="4" rx="2"/><rect x="232" y="718" width="18" height="1.5" fill="#bbb"/>
<rect x="229" y="758" width="56" height="6" rx="3"/><rect x="252" y="753" width="30" height="1.5" fill="#555"/>
<rect x="260" y="797" width="23" height="6" rx="2" fill="#333"/>
</g>
<g font-size="13"><text x="167" y="602">CAD</text><text x="167" y="637">HK4</text><text x="167" y="682">PC</text><text x="167" y="730">PDK3</text><text x="167" y="765">Actin</text><text x="167" y="808">LANA</text></g>
<g font-size="7.5" text-anchor="end"><text x="227" y="599">250-</text><text x="227" y="649">50-</text><text x="227" y="700">100-</text><text x="227" y="714">50-</text><text x="227" y="777">37-</text><text x="227" y="805">250-</text></g>
<g font-size="11" text-anchor="middle">
<text x="243" y="617">1.00</text><text x="271" y="617">1.03</text>
<text x="243" y="657">1.00</text><text x="271" y="657">9.91</text>
<text x="243" y="703">1.00</text><text x="271" y="703">3.41</text>
<text x="243" y="747">1.00</text><text x="271" y="747">3.75</text>
<text x="243" y="785">1.00</text><text x="271" y="785">1.07</text>
</g>

<!-- ============ PANEL H ============ -->
<text x="327" y="561" font-size="15" font-weight="bold">H</text>
<text x="414" y="583" font-size="12.5" text-anchor="middle">HOK</text>
<text x="576" y="583" font-size="12.5" text-anchor="middle">LEC</text>
<text transform="translate(326,686) rotate(-90)" font-size="13.5" text-anchor="middle">Lactate (mM)</text>
<text transform="translate(487,686) rotate(-90)" font-size="13.5" text-anchor="middle">Lactate (mM)</text>
<g stroke="#222" stroke-width="1.3">
<line x1="358" y1="604" x2="358" y2="768"/><line x1="358" y1="768" x2="467" y2="768"/>
<line x1="352" y1="604" x2="358" y2="604"/><line x1="352" y1="645" x2="358" y2="645"/><line x1="352" y1="686" x2="358" y2="686"/><line x1="352" y1="727" x2="358" y2="727"/><line x1="352" y1="768" x2="358" y2="768"/>
<line x1="384" y1="768" x2="384" y2="773"/><line x1="442" y1="768" x2="442" y2="773"/>
<line x1="520" y1="604" x2="520" y2="768"/><line x1="520" y1="768" x2="630" y2="768"/>
<line x1="514" y1="604" x2="520" y2="604"/><line x1="514" y1="645" x2="520" y2="645"/><line x1="514" y1="686" x2="520" y2="686"/><line x1="514" y1="727" x2="520" y2="727"/><line x1="514" y1="768" x2="520" y2="768"/>
<line x1="546" y1="768" x2="546" y2="773"/><line x1="604" y1="768" x2="604" y2="773"/>
</g>
<g font-size="13" text-anchor="end">
<text x="350" y="609">2.0</text><text x="350" y="650">1.5</text><text x="350" y="691">1.0</text><text x="350" y="732">0.5</text><text x="350" y="773">0.0</text>
<text x="512" y="609">2.0</text><text x="512" y="650">1.5</text><text x="512" y="691">1.0</text><text x="512" y="732">0.5</text><text x="512" y="773">0.0</text>
</g>
<g stroke="#333" stroke-width="0.9">
<rect x="366" y="653.2" width="15" height="114.8" fill="#9b9b9b"/><rect x="387" y="633.5" width="15" height="134.5" fill="#4f4ff0"/>
<rect x="424" y="640.9" width="15" height="127.1" fill="#9b9b9b"/><rect x="446" y="627.8" width="15" height="140.2" fill="#4f4ff0"/>
<rect x="528" y="727.8" width="14" height="40.2" fill="#9b9b9b"/><rect x="549" y="680.3" width="15" height="87.7" fill="#4f4ff0"/>
<rect x="586" y="663.9" width="15" height="104.1" fill="#9b9b9b"/><rect x="607" y="628.6" width="15" height="139.4" fill="#4f4ff0"/>
</g>
<g stroke="#222" stroke-width="0.9" fill="none">
<path d="M373.5,653.2V648.3 M371,648.3h5"/><path d="M394.5,633.5V626.1 M392,626.1h5"/><path d="M431.5,640.9V631.1 M429,631.1h5"/><path d="M453.5,627.8V624.5 M451,624.5h5"/>
<path d="M535,727.8V724.5 M532.5,724.5h5"/><path d="M556.5,680.3V675.3 M554,675.3h5"/><path d="M593.5,663.9V658.1 M591,658.1h5"/>
</g>
<g fill="#111">
<circle cx="370" cy="654" r="1.6"/><circle cx="373.5" cy="648.5" r="1.6"/><circle cx="377" cy="654" r="1.6"/>
<circle cx="391" cy="628" r="1.6"/><circle cx="394.5" cy="642" r="1.6"/><circle cx="398" cy="631" r="1.6"/>
<circle cx="431.5" cy="632" r="1.6"/><circle cx="431.5" cy="649" r="1.6"/><circle cx="428" cy="642" r="1.6"/>
<circle cx="450" cy="626" r="1.6"/><circle cx="453.5" cy="629" r="1.6"/><circle cx="457" cy="629" r="1.6"/>
<circle cx="532" cy="726" r="1.6"/><circle cx="535" cy="730" r="1.6"/><circle cx="538" cy="726" r="1.6"/>
<circle cx="553" cy="682" r="1.6"/><circle cx="556.5" cy="676" r="1.6"/><circle cx="560" cy="682" r="1.6"/>
<circle cx="590" cy="666" r="1.6"/><circle cx="593.5" cy="659" r="1.6"/><circle cx="597" cy="664" r="1.6"/>
<circle cx="611" cy="628.5" r="1.6"/><circle cx="614.5" cy="628.5" r="1.6"/><circle cx="618" cy="628.5" r="1.6"/>
</g>
<g font-size="9" text-anchor="middle"><text x="384" y="614">0.014127</text><text x="544" y="661">0.000111</text><text x="603" y="602">0.000452</text></g>
<g stroke="#222" stroke-width="1"><line x1="372" y1="618" x2="395" y2="618"/><line x1="532" y1="666" x2="554" y2="666"/><line x1="592" y1="607" x2="613" y2="607"/></g>
<g stroke="#333" stroke-width="0.9"><rect x="530" y="611" width="18" height="7" fill="#9b9b9b"/><rect x="530" y="628" width="18" height="7" fill="#4f4ff0"/></g>
<g font-size="14"><text x="558" y="620">Mock</text><text x="558" y="636">KSHV</text></g>
<g font-size="13.5" text-anchor="middle"><text x="383" y="789">48 h</text><text x="442" y="789">72 h</text><text x="546" y="789">72 h</text><text x="603" y="789">96 h</text></g>

<!-- ============ PANEL I ============ -->
<text x="645" y="561" font-size="15" font-weight="bold">I</text>
<text x="723" y="586" font-size="12.5" text-anchor="middle">TIME</text>
<text transform="translate(662,690) rotate(-90)" font-size="12.5" text-anchor="middle">Lactate (mM) /10E6 cells</text>
<g stroke="#222" stroke-width="1.3">
<line x1="682" y1="615" x2="682" y2="767"/><line x1="682" y1="767" x2="760" y2="767"/>
<line x1="677" y1="615" x2="682" y2="615"/><line x1="677" y1="653" x2="682" y2="653"/><line x1="677" y1="691" x2="682" y2="691"/><line x1="677" y1="729" x2="682" y2="729"/><line x1="677" y1="767" x2="682" y2="767"/>
<line x1="705" y1="767" x2="705" y2="772"/><line x1="740.5" y1="767" x2="740.5" y2="772"/>
</g>
<g font-size="13" text-anchor="end"><text x="675" y="620">8</text><text x="675" y="658">6</text><text x="675" y="696">4</text><text x="675" y="734">2</text><text x="675" y="772">0</text></g>
<g stroke="#333" stroke-width="0.9"><rect x="693" y="698.6" width="24" height="68.4" fill="#9b9b9b"/><rect x="729" y="652" width="23" height="115" fill="#4f4ff0"/></g>
<path d="M740.5,652V647.3 M737.5,647.3h6" stroke="#222" stroke-width="0.9" fill="none"/>
<g fill="#111"><circle cx="699" cy="699" r="1.8"/><circle cx="705" cy="698.5" r="1.8"/><circle cx="711" cy="698.5" r="1.8"/>
<circle cx="740.5" cy="648" r="1.8"/><circle cx="737" cy="656" r="1.8"/><circle cx="740.5" cy="660" r="1.8"/></g>
<text x="720" y="627" font-size="9" text-anchor="middle">&lt;0.0001</text>
<line x1="701" y1="629" x2="740" y2="629" stroke="#222" stroke-width="1"/>
<g font-size="13" text-anchor="middle"><text x="705" y="787">Mock</text><text x="741" y="787">KSHV</text></g>

<!-- ============ PANEL J ============ -->
<text x="12" y="838" font-size="15" font-weight="bold">J</text>
<g stroke="#aaa" stroke-width="1"><line x1="85" y1="845" x2="85" y2="986"/><line x1="85" y1="986" x2="318" y2="986"/></g>
<g font-size="12.5" text-anchor="end" fill="#222">
<text x="73" y="849">12.15</text><text x="73" y="877">9.72</text><text x="73" y="905">7.29</text><text x="73" y="934">4.86</text><text x="73" y="963">2.43</text><text x="73" y="991">0.00</text>
</g>
<g font-size="12.5" text-anchor="middle" fill="#222">
<text x="83" y="1007">0.00</text><text x="130" y="1007">2.97</text><text x="177" y="1007">5.94</text><text x="224" y="1007">8.91</text><text x="272" y="1007">11.88</text><text x="318" y="1007">14.85</text>
</g>
<text x="200" y="1027" font-size="12.5" text-anchor="middle" fill="#222">ECAR (mpH/min/10E4 cells)</text>
<text transform="translate(33,928) rotate(-90)" font-size="12.5" text-anchor="middle" fill="#222">ORC (pmol/min/10E4 cells)</text>
<g font-size="12.5" fill="#222"><text x="90" y="860">Aerobic</text><text x="255" y="860">Energetic</text><text x="90" y="982">Quiescent</text><text x="257" y="982">Glycolytic</text></g>
<g stroke="#888" stroke-width="1.5" fill="none">
<path d="M164,880H216 M164,876V884 M216,876V884 M190,857V902 M186,857H194 M186,902H194"/>
</g>
<circle cx="190" cy="880" r="4.5" fill="#888"/>
<g stroke="#666" stroke-width="1.3" fill="none">
<path d="M254,934H303 M254,930V938 M303,930V938 M279,927V942 M275,927H283 M275,942H283"/>
</g>
<circle cx="279" cy="934" r="4.5" fill="#1a1aee"/>
<circle cx="332" cy="882" r="3.5" fill="#1a1aee"/><circle cx="332" cy="898" r="3.5" fill="#888"/>
<g font-size="12.5" fill="#222"><text x="337" y="887">KSHV</text><text x="337" y="903">Mock</text></g>

<!-- ============ PANEL K ============ -->
<text x="400" y="838" font-size="15" font-weight="bold">K</text>
<text x="750" y="837" font-size="12.5" text-anchor="middle">LANA</text>
<text x="507" y="853" font-size="13" font-weight="bold">+</text>
<text x="628" y="853" font-size="12.5" text-anchor="middle">IB: Flag (CAD)</text>
<text x="716" y="853" font-size="13" font-weight="bold">-</text>
<text transform="translate(748,841) rotate(90)" font-size="7.5">250-</text>
<text x="460" y="864" font-size="7.5">(kDa)</text>
<g fill="#e6e6e6" stroke="#2a2a2a" stroke-width="1.3">
<rect x="486" y="859" width="244" height="34"/><rect x="486" y="895" width="244" height="35"/>
<rect x="486" y="933" width="244" height="37"/><rect x="486" y="973" width="244" height="36"/>
<rect x="737" y="861" width="26" height="148"/>
</g>
<g fill="#d0d0d0"><rect x="490" y="860" width="17" height="32"/><rect x="490" y="896" width="17" height="33"/><rect x="490" y="934" width="17" height="35"/><rect x="490" y="974" width="17" height="34"/></g>
<g fill="#555"><rect x="491" y="877" width="15" height="2.5"/><rect x="491" y="909" width="15" height="2"/><rect x="491" y="950" width="15" height="3"/><rect x="491" y="994" width="15" height="3"/></g>
<line x1="631" y1="859" x2="631" y2="1009" stroke="#999" stroke-width="0.7" stroke-dasharray="1.5,1.5"/>
<g fill="#222"><ellipse cx="634" cy="872" rx="2" ry="1"/><ellipse cx="632" cy="879" rx="2" ry="1"/><ellipse cx="625" cy="903" rx="1.3" ry="2.5"/><ellipse cx="634" cy="916" rx="3" ry="1.2"/><ellipse cx="634" cy="950" rx="2" ry="1.8"/><ellipse cx="626" cy="987" rx="4" ry="1.2"/></g>
<rect x="662" y="897" width="8" height="32" fill="#d4d4d4"/>
<g fill="#777"><ellipse cx="750" cy="913" rx="4" ry="13"/><ellipse cx="748" cy="990" rx="8" ry="13"/></g>
<g font-size="7.5" text-anchor="end"><text x="485" y="881">250-</text><text x="485" y="913">250-</text><text x="485" y="954">250-</text><text x="485" y="998">250-</text></g>
<g font-size="13"><text x="428" y="881">Mock</text><text x="427" y="917">KSHV</text><text x="428" y="955">Mock</text><text x="427" y="993">KSHV</text></g>
<line x1="423" y1="860" x2="423" y2="922" stroke="#111" stroke-width="1.5"/>
<line x1="423" y1="938" x2="423" y2="1008" stroke="#111" stroke-width="1.5"/>
<text transform="translate(420,891) rotate(-90)" font-size="13" text-anchor="middle">CAD-WT</text>
<text transform="translate(420,973) rotate(-90)" font-size="13" text-anchor="middle">CAD-S1859E</text>
</svg>
</body></html>
